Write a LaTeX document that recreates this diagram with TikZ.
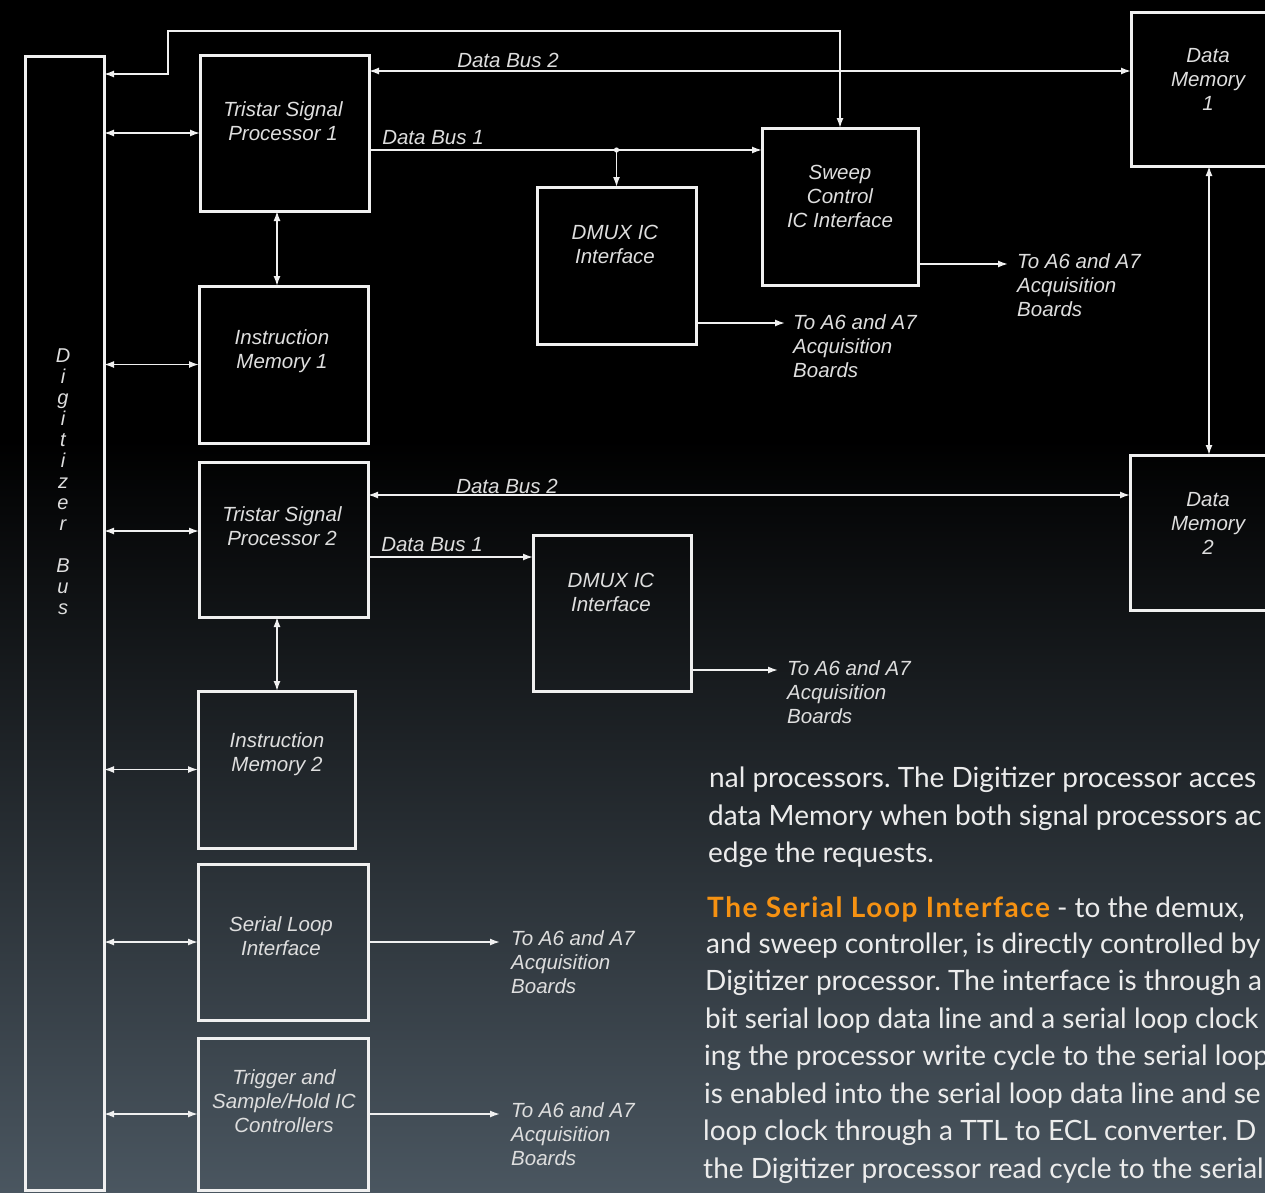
\documentclass[tikz,border=0pt]{standalone}
\usepackage{fontspec}
\setmainfont{Lato}
\newfontfamily\diagfont{Liberation Sans}
\newfontfamily\headfont{Lato}[LetterSpace=5.5]
\usetikzlibrary{arrows.meta,calc}
\definecolor{slate}{RGB}{74,86,96}
\definecolor{headorange}{RGB}{246,146,18}
\definecolor{bodytext}{RGB}{236,236,236}
\definecolor{ink}{RGB}{240,240,240}
\definecolor{labelgrey}{RGB}{222,222,222}
\frenchspacing

\begin{document}
\begin{tikzpicture}[x=1pt,y=-1pt,
  box/.style={draw=ink, line width=3pt, inner sep=0pt, outer sep=0pt, anchor=north west},
  wire/.style={draw=ink, line width=1.6pt, >={Latex[length=10pt,width=7pt]}},
  boxtext/.style={font=\diagfont\itshape\fontsize{20.5}{24}\selectfont, text=labelgrey, align=center, inner sep=0pt},
  destlabel/.style={boxtext, align=left, anchor=north west},
  buslabel/.style={boxtext},
  para/.style={font=\fontsize{28}{37.5}\selectfont, text=bodytext, anchor=base west, inner sep=0pt},
]
% background
\useasboundingbox (0,0) rectangle (1265,1192);
\fill[black] (0,0) rectangle (1265,1192);
\shade[top color=black, bottom color=slate] (0,440) rectangle (1265,1192);

\begin{scope}
\clip (0,0) rectangle (1265,1192);

% blocks
\node[box, minimum width=79pt,  minimum height=1134pt] (bus)   at (25,56)   {};
\node[box, minimum width=169pt, minimum height=156pt]  (tsp1)  at (200,55)  {};
\node[box, minimum width=169pt, minimum height=157pt]  (im1)   at (199,286) {};
\node[box, minimum width=169pt, minimum height=155pt]  (tsp2)  at (199,462) {};
\node[box, minimum width=157pt, minimum height=157pt]  (im2)   at (198,691) {};
\node[box, minimum width=170pt, minimum height=156pt]  (sli)   at (198,864) {};
\node[box, minimum width=170pt, minimum height=152pt]  (trig)  at (198,1038) {};
\node[box, minimum width=159pt, minimum height=157pt]  (dmux1) at (537,187) {};
\node[box, minimum width=156pt, minimum height=157pt]  (sweep) at (762,128) {};
\node[box, minimum width=158pt, minimum height=156pt]  (dmux2) at (533,535) {};
\node[box, minimum width=200pt, minimum height=154pt]  (dm1)   at (1131,12) {};
\node[box, minimum width=200pt, minimum height=155pt]  (dm2)   at (1130,455) {};

% block titles
\node[boxtext, font=\diagfont\itshape\fontsize{20}{21}\selectfont] (busname) at (63,482)
  {D\\i\\g\\i\\t\\i\\z\\e\\r\\[21pt]B\\u\\s};
\node[boxtext] (tsp1t)  at (283,121) {Tristar Signal\\Processor 1};
\node[boxtext] (im1t)   at (282,351) {Instruction\\Memory 1};
\node[boxtext] (tsp2t)  at (282,526) {Tristar Signal\\Processor 2};
\node[boxtext] (im2t)   at (277,754) {Instruction\\Memory 2};
\node[boxtext] (slit)   at (281,936) {Serial Loop\\Interface};
\node[boxtext] (trigt)  at (284,1101) {Trigger and\\Sample/Hold IC\\Controllers};
\node[boxtext] (dmux1t) at (615,244) {DMUX IC\\Interface};
\node[boxtext] (sweept) at (840,196) {Sweep\\Control\\IC Interface};
\node[boxtext] (dmux2t) at (611,592) {DMUX IC\\Interface};
\node[boxtext] (dm1t)   at (1208,79) {Data\\Memory\\1};
\node[boxtext] (dm2t)   at (1208,523) {Data\\Memory\\2};

% Digitizer bus links
\draw[wire,<->] (bus.east |- tsp1.west) -- (tsp1.west);
\draw[wire,<->] (bus.east |- im1.west) -- (im1.west);
\coordinate (t2l) at ([yshift=-69pt]tsp2.north west);
\draw[wire,<->] (bus.east |- t2l) -- (t2l);
\draw[wire,<->] (bus.east |- im2.west) -- (im2.west);
\draw[wire,<->] (bus.east |- sli.west) -- (sli.west);
\draw[wire,<->] (bus.east |- trig.west) -- (trig.west);

% sweep control line over the top
\coordinate (fb) at (168,31);
\draw[wire,<->] ([yshift=-18pt]bus.north east) -| (fb) -| (sweep.north);

% processor to instruction memory
\coordinate (t1b) at ([xshift=77pt]tsp1.south west);
\draw[wire,<->] (t1b) -- (t1b |- im1.north);
\coordinate (t2b) at ([xshift=78pt]tsp2.south west);
\draw[wire,<->] (t2b) -- (t2b |- im2.north);

% data buses of processor 1
\coordinate (db2a) at ([yshift=-16pt]tsp1.north east);
\draw[wire,<->] (db2a) -- (db2a -| dm1.west);
\node[buslabel] (db2al) at (508,60) {Data Bus 2};
\coordinate (db1a) at ([yshift=-95pt]tsp1.north east);
\draw[wire,->] (db1a) -- (db1a -| sweep.west);
\node[buslabel] (db1al) at (433,138) {Data Bus 1};
\coordinate (j1) at (db1a -| dmux1.north);
\draw[wire,->] (j1) -- (dmux1.north);
\fill[ink] (j1) circle (2.6pt);

% data buses of processor 2
\coordinate (db2b) at ([yshift=-33pt]tsp2.north east);
\draw[wire,<->] (db2b) -- (db2b -| dm2.west);
\node[buslabel] (db2bl) at (507,486) {Data Bus 2};
\coordinate (db1b) at ([yshift=-95pt]tsp2.north east);
\draw[wire,->] (db1b) -- (db1b -| dmux2.west);
\node[buslabel] (db1bl) at (432,545) {Data Bus 1};

% data memory link
\coordinate (m1b) at ([xshift=78pt]dm1.south west);
\draw[wire,<->] (m1b) -- (m1b |- dm2.north);

% outputs to the acquisition boards
\coordinate (o1) at ([yshift=-136pt]sweep.north east);
\coordinate (o1e) at (1008,264);
\draw[wire,->] (o1) -- (o1e);
\node[destlabel] (o1l) at (1017,253) {To A6 and A7\\Acquisition\\Boards};

\coordinate (o2) at ([yshift=-136pt]dmux1.north east);
\coordinate (o2e) at (785,323);
\draw[wire,->] (o2) -- (o2e);
\node[destlabel] (o2l) at (793,314) {To A6 and A7\\Acquisition\\Boards};

\coordinate (o3) at ([yshift=-135pt]dmux2.north east);
\coordinate (o3e) at (778,670);
\draw[wire,->] (o3) -- (o3e);
\node[destlabel] (o3l) at (787,660) {To A6 and A7\\Acquisition\\Boards};

\coordinate (o4e) at (500,942);
\draw[wire,->] (sli.east) -- (o4e);
\node[destlabel] (o4l) at (511,930) {To A6 and A7\\Acquisition\\Boards};

\coordinate (o5e) at (500,1114);
\draw[wire,->] (trig.east) -- (o5e);
\node[destlabel] (o5l) at (511,1102) {To A6 and A7\\Acquisition\\Boards};

% running text, cut by the right edge of the page
\node[para] (p1)  at (709,787)  {nal processors. The Digitizer processor acces};
\node[para] (p2)  at (708,825)  {data Memory when both signal processors ac};
\node[para] (p3)  at (708,862)  {edge the requests.};
\node[para] (p4)  at (707,917)  {{\headfont\bfseries\color{headorange}The Serial Loop Interface} - to the demux,};
\node[para] (p5)  at (706,953)  {and sweep controller, is directly controlled by};
\node[para] (p6)  at (705,990)  {Digitizer processor. The interface is through a};
\node[para] (p7)  at (705,1028) {bit serial loop data line and a serial loop clock};
\node[para] (p8)  at (704,1065) {ing the processor write cycle to the serial loop};
\node[para] (p9)  at (704,1103) {is enabled into the serial loop data line and se};
\node[para] (p10) at (703,1140) {loop clock through a TTL to ECL converter. D};
\node[para] (p11) at (703,1178) {the Digitizer processor read cycle to the serial};
\end{scope}
\end{tikzpicture}
\end{document}
